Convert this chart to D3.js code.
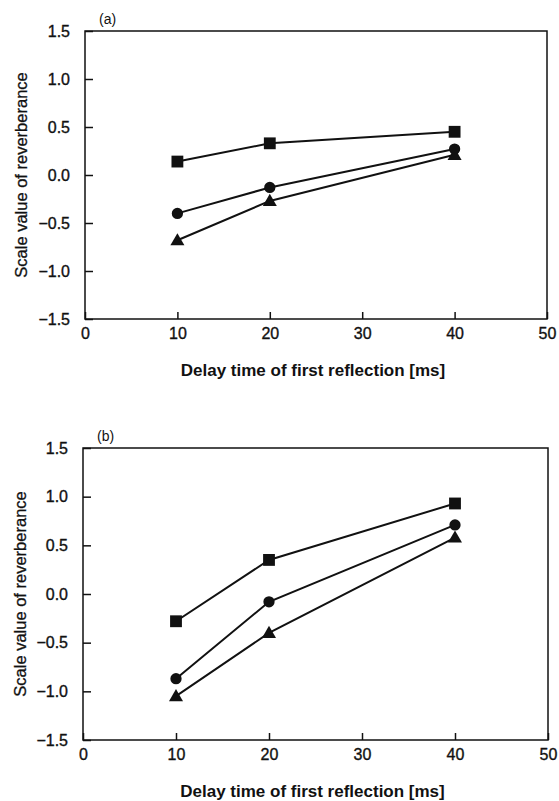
<!DOCTYPE html>
<html>
<head>
<meta charset="utf-8">
<script src="https://cdn.jsdelivr.net/npm/d3@7"></script>
<style>
  html, body { margin: 0; padding: 0; background: #fff; }
  svg { display: block; }
  text { font-family: "Liberation Sans", Arial, sans-serif; fill: #111; }
</style>
</head>
<body>
<svg id="chart" width="559" height="801"></svg>
<script>
// ---- data ----
const delays = [10, 20, 40];
const xTicks = [0, 10, 20, 30, 40, 50];
const yTicks = [-1.5, -1.0, -0.5, 0.0, 0.5, 1.0, 1.5];

// panel (a)
const aSquare   = [0.14, 0.33, 0.45];
const aCircle   = [-0.40, -0.13, 0.27];
const aTriangle = [-0.68, -0.27, 0.21];
// panel (b)
const bSquare   = [-0.28, 0.35, 0.93];
const bCircle   = [-0.87, -0.08, 0.71];
const bTriangle = [-1.05, -0.40, 0.58];

const panelLabels = ["(a)", "(b)"];
const xTitle = "Delay time of first reflection [ms]";
const yTitle = "Scale value of reverberance";

const svg = d3.select("#chart");

const panels = [
  { label: panelLabels[0], left: 85, right: 547, top: 31, bottom: 319, yTitleX: 27,
    series: [{sym: "square", v: aSquare}, {sym: "circle", v: aCircle}, {sym: "triangle", v: aTriangle}] },
  { label: panelLabels[1], left: 83, right: 548, top: 448, bottom: 740, yTitleX: 26,
    series: [{sym: "square", v: bSquare}, {sym: "circle", v: bCircle}, {sym: "triangle", v: bTriangle}] }
];

const symMap = {
  square: d3.symbol().type(d3.symbolSquare).size(140),
  circle: d3.symbol().type(d3.symbolCircle).size(100),
  triangle: d3.symbol().type(d3.symbolTriangle).size(85)
};

panels.forEach(p => {
  const x = d3.scaleLinear().domain([0, 50]).range([p.left, p.right]);
  const y = d3.scaleLinear().domain([-1.5, 1.5]).range([p.bottom, p.top]);
  const g = svg.append("g");

  // frame
  g.append("rect")
    .attr("x", p.left).attr("y", p.top)
    .attr("width", p.right - p.left).attr("height", p.bottom - p.top)
    .attr("fill", "none").attr("stroke", "#111").attr("stroke-width", 1.5);

  // y axis (ticks inward)
  const yAxis = d3.axisLeft(y).tickValues(yTicks).tickSize(-8).tickPadding(15)
    .tickFormat(d => d === 0 ? "0.0" : d3.format(".1f")(d).replace("-", "\u2212"));
  const ya = g.append("g").attr("transform", `translate(${p.left},0)`).call(yAxis);
  ya.select(".domain").remove();
  ya.selectAll("line").attr("stroke", "#111").attr("stroke-width", 1.5);
  ya.selectAll("text").attr("font-size", 16).attr("fill", "#111")
    .attr("stroke", "#111").attr("stroke-width", 0.35)
    .attr("font-family", "Liberation Sans, Arial, sans-serif");

  // x axis (ticks inward)
  const xAxis = d3.axisBottom(x).tickValues(xTicks).tickSize(-7).tickPadding(9)
    .tickFormat(d3.format("d"));
  const xa = g.append("g").attr("transform", `translate(0,${p.bottom})`).call(xAxis);
  xa.select(".domain").remove();
  xa.selectAll("line").attr("stroke", "#111").attr("stroke-width", 1.5);
  xa.selectAll("text").attr("font-size", 16).attr("fill", "#111")
    .attr("stroke", "#111").attr("stroke-width", 0.35)
    .attr("font-family", "Liberation Sans, Arial, sans-serif");

  // titles
  g.append("text")
    .attr("x", (p.left + p.right) / 2 - 3)
    .attr("y", p.bottom + 57)
    .attr("text-anchor", "middle")
    .attr("font-size", 17).attr("font-weight", "bold")
    .text(xTitle);
  g.append("text")
    .attr("transform", `translate(${p.yTitleX},${(p.top + p.bottom) / 2}) rotate(-90)`)
    .attr("text-anchor", "middle")
    .attr("font-size", 16.5)
    .attr("stroke", "#111").attr("stroke-width", 0.3)
    .text(yTitle);
  g.append("text")
    .attr("x", p.left + 14).attr("y", p.top - 7)
    .attr("font-size", 14)
    .text(p.label);

  // series
  const line = d3.line().x((d, i) => x(delays[i])).y(d => y(d));
  p.series.forEach(s => {
    g.append("path").datum(s.v)
      .attr("d", line)
      .attr("fill", "none").attr("stroke", "#111").attr("stroke-width", 2);
    g.selectAll(null).data(s.v).enter().append("path")
      .attr("d", symMap[s.sym])
      .attr("transform", (d, i) => `translate(${x(delays[i])},${y(d) + (s.sym === "triangle" ? 1 : 0)})`)
      .attr("fill", "#111");
  });
});
</script>
</body>
</html>
